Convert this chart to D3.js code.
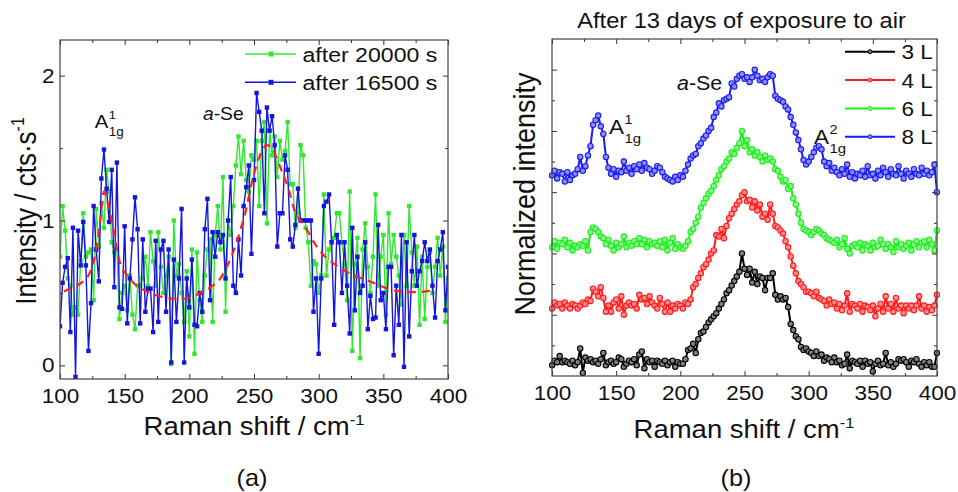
<!DOCTYPE html>
<html>
<head>
<meta charset="utf-8">
<script src="https://cdn.jsdelivr.net/npm/d3@7"></script>
<style>
body { margin: 0; background: #fff; }
</style>
</head>
<body>
<svg id="fig" width="958" height="492"></svg>
<script>
'use strict'

// ---- data ----
var shiftGrid = d3.range(100, 401, 2)   // Raman shift, cm-1, both panels

// panel (a): intensity, cts/s
var after20000 = [
    0.75, 1.1, 0.93, 0.6, 0.55, 0.35, 0.4, 0.35, 0.72, 1.05,
    0.75, 0.78, 0.8, 0.45, 1.08, 0.82, 1.12, 0.95, 1.35, 1.2,
    0.85, 0.78, 0.8, 0.32, 0.5, 0.55, 0.38, 0.62, 0.35, 0.25,
    0.55, 0.55, 0.6, 0.75, 0.55, 0.92, 0.72, 0.55, 0.92, 0.68,
    0.5, 0.62, 0.75, 0.01, 1.0, 0.62, 0.7, 0.5, 0.3, 0.65,
    0.2, 0.8, 0.08, 0.78, 0.45, 0.3, 0.62, 0.8, 0.87, 0.3,
    0.9, 1.1, 0.8, 1.3, 0.37, 1.0, 0.9, 1.1, 1.38, 1.58,
    1.32, 1.55, 1.28, 1.2, 1.45, 1.42, 1.55, 1.1, 1.55, 1.68,
    0.98, 1.62, 1.45, 1.58, 1.3, 1.55, 1.42, 1.48, 1.68, 1.25,
    1.25, 0.95, 1.05, 1.52, 1.45, 0.95, 0.85, 0.55, 0.72, 0.7,
    0.5, 0.62, 1.18, 0.62, 0.8, 0.85, 0.88, 1.05, 1.05, 0.85,
    0.7, 0.45, 1.2, 0.1, 0.7, 0.88, 0.05, 0.8, 0.98, 0.68,
    0.5, 0.75, 1.18, 0.55, 0.75, 0.9, 0.35, 1.05, 0.7, 0.9,
    0.75, 0.62, 0.42, 0.9, 0.55, 1.1, 0.78, 0.55, 0.82, 0.28,
    0.75, 0.32, 0.68, 0.78, 0.5, 0.68, 0.88, 0.62, 0.82, 0.3,
    0.6
]
var after16500 = [
    0.27, 0.57, 0.68, 0.74, 0.23, 0.95, -0.08, 0.93, 0.69, 0.99,
    0.69, 0.10, 0.43, 1.10, 0.80, 0.58, 1.29, 1.49, 1.22, 0.99,
    1.35, 0.54, 1.40, 0.40, 0.39, 0.96, 0.29, 0.60, 0.87, 1.16,
    0.94, 0.29, 0.87, 0.37, 0.53, 0.53, 0.23, 0.86, 0.30, 0.80,
    0.86, 0.37, 0.80, 0.02, 0.73, 0.30, 0.60, 1.08, 0.02, 0.60,
    0.40, 0.73, 0.28, 0.27, 0.50, 0.37, 0.94, 1.15, 0.45, 0.92,
    0.75, 0.92, 0.85, 0.90, 0.60, 1.00, 1.30, 0.55, 0.50, 0.87,
    0.62, 1.10, 1.23, 1.38, 0.77, 1.28, 1.88, 1.75, 1.62, 1.05,
    1.78, 1.62, 1.72, 1.52, 0.82, 1.05, 1.05, 1.45, 1.35, 0.87,
    0.82, 0.97, 1.22, 1.00, 1.00, 1.00, 1.00, 1.00, 0.37, 0.60,
    0.08, 0.60, 1.10, 1.13, 1.18, 0.85, 0.28, 0.90, 0.85, 0.50,
    0.85, 0.55, 0.22, 0.95, 0.38, 0.75, 0.50, 0.55, 0.85, 0.25,
    0.48, 0.32, 0.33, 0.97, 0.45, 0.50, 0.25, 0.68, 0.68, 0.07,
    0.55, 0.28, 0.90, -0.01, 0.85, 0.20, 0.65, 0.90, 0.55, 0.65,
    0.72, 0.85, 0.72, 0.80, 0.55, 0.33, 0.72, 0.80, 0.92, 0.38,
    0.68
]
var fitShift = [103, 110, 118, 124, 128, 131, 134, 137, 141, 146, 152, 158, 165, 172, 180, 189, 197, 204, 211, 218,
    224, 229, 235, 240, 244, 248, 252, 256, 260, 264, 268, 272, 277, 281, 286, 290, 297, 304, 312, 322,
    330, 337, 345, 353, 360, 368, 376, 384, 390]
var fitValue = [0.51, 0.54, 0.58, 0.66, 0.8, 0.99, 1.2, 1.12, 0.95, 0.72, 0.62, 0.56, 0.52, 0.49, 0.47, 0.46, 0.46, 0.48, 0.51, 0.55,
    0.6, 0.68, 0.81, 0.95, 1.08, 1.25, 1.38, 1.48, 1.52, 1.5, 1.42, 1.33, 1.21, 1.08, 1.0, 0.95, 0.84, 0.76, 0.7, 0.645,
    0.61, 0.59, 0.56, 0.53, 0.515, 0.508, 0.505, 0.512, 0.52]

// panel (b): normalized intensity, offset traces
var layers3 = [
    0.35, 0.5, 0.45, 0.65, 0.45, 0.5, 0.45, 0.4, 0.5, 0.35,
    0.45, 0.9, 0.1, 0.6, 0.5, 0.55, 0.45, 0.5, 0.4, 0.55,
    0.75, 0.35, 0.45, 0.5, 0.4, 0.45, 0.6, 0.55, 0.3, 0.4,
    0.5, 0.45, 0.55, 0.35, 0.7, 0.8, 0.25, 0.55, 0.45, 0.5,
    0.3, 0.5, 0.45, 0.4, 0.5, 0.35, 0.45, 0.5, 0.3, 0.45,
    0.4, 0.4, 0.55, 0.85, 0.9, 1.05, 0.75, 1.2, 1.4, 1.45,
    1.6, 1.75, 1.85, 1.95, 2.05, 2.2, 2.35, 2.5, 2.7, 2.8,
    2.95, 3.1, 3.25, 3.4, 4.0, 3.5, 3.3, 3.5, 3.05, 3.4,
    3.0, 3.25, 3.2, 2.8, 3.2, 3.2, 3.35, 2.65, 2.5, 2.6,
    2.5, 2.55, 2.25, 1.7, 1.5, 1.3, 1.2, 0.95, 0.85, 0.9,
    0.8, 0.75, 0.65, 0.8, 0.65, 0.7, 0.5, 0.6, 0.55, 0.45,
    0.6, 0.45, 0.5, 0.35, 0.4, 0.7, 0.25, 0.5, 0.45, 0.4,
    0.5, 0.3, 0.5, 0.4, 0.45, 0.15, 0.4, 0.5, 0.35, 0.4,
    0.75, 0.35, 0.45, 0.3, 0.4, 0.55, 0.5, 0.55, 0.45, 0.3,
    0.5, 0.45, 0.55, 0.4, 0.3, 0.45, 0.35, 0.45, 0.3, 0.3,
    0.75
]
var layers4 = [
    2.2, 2.4, 2.3, 2.35, 2.2, 2.4, 2.3, 2.2, 2.35, 2.3,
    2.2, 2.3, 2.4, 2.35, 2.5, 2.45, 2.85, 2.75, 2.6, 2.9,
    2.55, 2.1, 2.3, 2.1, 2.4, 2.5, 2.2, 2.6, 2.0, 2.3,
    2.4, 2.3, 2.35, 2.2, 2.65, 2.5, 2.55, 2.35, 2.6, 2.4,
    2.3, 2.2, 2.55, 2.35, 2.1, 2.4, 2.1, 2.3, 2.2, 2.35,
    2.3, 2.2, 2.4, 2.35, 2.5, 2.9, 3.0, 3.2, 3.35, 3.55,
    3.65, 3.8, 4.0, 4.1, 4.6, 4.55, 4.8, 4.5, 4.9, 5.15,
    5.3, 5.45, 5.6, 5.7, 5.9, 6.0, 5.7, 5.75, 5.5, 5.7,
    5.4, 5.6, 5.2, 5.3, 5.1, 5.6, 5.3, 4.9, 4.85, 4.75,
    4.65, 4.4, 4.2, 3.9, 3.6, 3.35, 3.1, 3.0, 2.9, 2.75,
    2.75, 2.7, 2.6, 2.75, 2.55, 2.5, 2.45, 2.3, 2.5, 2.35,
    2.4, 2.2, 2.35, 2.15, 2.3, 2.7, 2.1, 2.35, 2.3, 2.2,
    2.35, 2.1, 2.3, 2.25, 2.15, 2.3, 1.95, 2.2, 2.35, 2.1,
    2.6, 2.2, 2.35, 2.1, 2.55, 2.2, 2.3, 2.05, 2.3, 2.2,
    2.3, 2.15, 2.3, 2.6, 2.2, 2.3, 2.1, 2.25, 2.15, 2.3,
    2.65
]
var layers6 = [
    4.2, 4.4, 4.15, 4.35, 4.3, 4.45, 4.2, 4.35, 4.1, 4.25,
    4.2, 4.3, 4.25, 4.4, 4.1, 4.7, 4.85, 4.8, 4.7, 4.55,
    4.5, 4.3, 4.45, 4.25, 4.1, 4.35, 4.2, 4.3, 4.55, 4.2,
    4.35, 4.25, 4.4, 4.3, 4.5, 4.3, 4.45, 4.2, 4.4, 4.3,
    4.35, 4.25, 4.4, 4.2, 4.45, 4.1, 4.35, 4.5, 4.15, 4.3,
    4.2, 4.15, 4.25, 4.4, 4.7, 4.8, 5.0, 5.2, 5.5, 5.65,
    5.8, 5.95, 6.05, 6.2, 6.4, 6.55, 6.75, 6.85, 7.0, 7.1,
    7.3, 7.25, 7.45, 7.6, 8.0, 7.5, 7.7, 7.3, 7.4, 7.2,
    7.3, 7.15, 7.0, 7.2, 7.05, 7.1, 7.0, 6.75, 6.7, 6.5,
    6.35, 6.4, 6.1, 6.2, 5.8, 5.6, 5.3, 5.0, 4.8, 4.75,
    4.7, 4.6, 4.7, 4.8, 4.75, 4.65, 4.6, 4.5, 4.45, 4.4,
    4.35, 4.45, 4.2, 4.3, 4.5, 4.15, 4.0, 4.25, 4.3, 4.2,
    4.35, 4.1, 4.3, 4.25, 4.1, 4.35, 4.2, 4.25, 4.45, 4.3,
    4.15, 4.3, 4.2, 4.05, 4.4, 4.2, 4.3, 4.15, 4.25, 4.35,
    4.1, 4.3, 4.4, 4.2, 4.35, 4.4, 4.2, 4.45, 4.3, 4.1,
    4.75
]
var layers8 = [
    6.55, 6.7, 6.45, 6.65, 6.6, 6.35, 6.65, 6.4, 6.55, 6.6,
    6.75, 7.15, 6.7, 6.85, 7.2, 7.5, 8.2, 8.35, 8.5, 8.15,
    7.9, 7.15, 6.8, 6.6, 6.75, 6.5, 6.7, 6.65, 7.0, 6.7,
    6.8, 6.6, 6.85, 6.75, 6.9, 6.7, 6.95, 6.8, 6.75, 6.6,
    6.7, 6.85, 6.8, 6.65, 6.5, 6.45, 6.4, 6.35, 6.5, 6.4,
    6.55, 6.5, 6.7, 6.9, 7.1, 7.2, 7.25, 7.5, 7.6, 7.75,
    7.85, 8.0, 8.1, 8.45, 8.6, 8.9, 8.8, 9.0, 9.05, 9.1,
    9.55, 9.45, 9.7, 9.8, 9.85, 9.7, 9.75, 9.6, 9.75, 10.0,
    9.8, 9.65, 9.7, 9.6, 9.75, 9.85, 9.8, 9.15, 9.05, 9.0,
    8.95, 8.8, 8.7, 8.45, 8.2, 7.95, 7.7, 7.4, 7.05, 6.9,
    7.0, 7.15, 7.3, 7.45, 7.5, 7.4, 7.0, 6.85, 6.95, 6.7,
    6.8, 6.65, 6.55, 6.75, 6.6, 6.9, 6.5, 6.65, 6.45, 6.6,
    6.55, 6.7, 6.5, 6.85, 6.55, 6.6, 6.45, 6.7, 6.55, 6.8,
    6.65, 6.5, 6.75, 6.6, 6.55, 6.85, 6.6, 6.45, 6.7, 6.6,
    6.5, 6.75, 6.6, 6.55, 6.8, 6.6, 6.7, 6.55, 6.65, 6.9,
    6.0
]

var shiftTicks = [100, 150, 200, 250, 300, 350, 400]
var shiftMinor = [125, 175, 225, 275, 325, 375]
var intensityTicks = [0, 1, 2]
var intensityMinor = [0.5, 1.5]
var normTicks = [2, 4, 6, 8, 10]
var normMinor = [1, 3, 5, 7, 9]

var leftSeries = [
    { name: 'after 20000 s', values: after20000, color: '#33e633' },
    { name: 'after 16500 s', values: after16500, color: '#1515dd' }
]
var rightSeries = [
    { name: '3 L', values: layers3, color: '#000000' },
    { name: '4 L', values: layers4, color: '#ff1a1a' },
    { name: '6 L', values: layers6, color: '#1aef1a' },
    { name: '8 L', values: layers8, color: '#1a1aee' }
]

// ---- drawing ----
var FONT = '"Liberation Sans", Arial, sans-serif'
var SX = 1.1   // the original figure is slightly stretched horizontally
var svg = d3.select('#fig').style('font-family', FONT)

var addText = function(parent, x, y, size, anchor) {
    return parent.append('text')
        .attr('transform', 'translate(' + x + ',' + y + ') scale(' + SX + ',1)')
        .attr('text-anchor', anchor || 'start')
        .style('font-size', size + 'px')
        .style('fill', '#111')
}

var drawFrame = function(g, x, y, w, h, opts) {
    let ax = function(axis, tx, ty) {
        let a = g.append('g')
            .attr('transform', 'translate(' + tx + ',' + ty + ')')
            .attr('color', '#333')
            .call(axis)
        a.select('.domain').remove()
        a.selectAll('text')
            .style('font-size', '20.5px')
            .style('font-family', FONT)
            .style('fill', '#111')
            .attr('transform', 'scale(' + SX + ',1)')
        return a
    }
    ax(d3.axisBottom(x).tickValues(opts.xMajor).tickSize(-5).tickPadding(9).tickFormat(d3.format('d')), 0, h)
    ax(d3.axisBottom(x).tickValues(opts.xMinor).tickSize(-3).tickFormat(''), 0, h)
    ax(d3.axisTop(x).tickValues(opts.xMajor).tickSize(-5).tickFormat(''), 0, 0)
    ax(d3.axisTop(x).tickValues(opts.xMinor).tickSize(-3).tickFormat(''), 0, 0)
    ax(d3.axisLeft(y).tickValues(opts.yMajor).tickSize(-5).tickPadding(5).tickFormat(opts.yFormat), 0, 0)
    ax(d3.axisLeft(y).tickValues(opts.yMinor).tickSize(-3).tickFormat(''), 0, 0)
    ax(d3.axisRight(y).tickValues(opts.yMajor).tickSize(-5).tickFormat(''), w, 0)
    ax(d3.axisRight(y).tickValues(opts.yMinor).tickSize(-3).tickFormat(''), w, 0)

    g.append('rect')
        .attr('width', w).attr('height', h)
        .style('fill', 'none').style('stroke', '#444').style('stroke-width', 1.2)
}

// mode label like A_1g^1
var modeLabel = function(x, y, size, sup) {
    addText(svg, x, y, size).text('A')
    let off = 0.69 * size * SX
    addText(svg, x + off, y - 0.5 * size, size * 0.64).text(sup)
    addText(svg, x + off, y + 0.42 * size, size * 0.66).text('1g')
}

var aSe = function(x, y, size) {
    let t = addText(svg, x, y, size)
    t.append('tspan').style('font-style', 'italic').text('a')
    t.append('tspan').text('-Se')
}

// ---------- panel (a) ----------
var leftW = 388, leftH = 339
var gA = svg.append('g').attr('transform', 'translate(60,40)')

var xA = d3.scaleLinear().domain([100, 400]).range([0, leftW])
var yA = d3.scaleLinear().domain([-0.094, 2.246]).range([leftH, 0])

gA.append('defs').append('clipPath').attr('id', 'clipA')
    .append('rect').attr('width', leftW).attr('height', leftH)
var plotA = gA.append('g').attr('clip-path', 'url(#clipA)')

leftSeries.forEach(s => {
    let line = d3.line().x((d, i) => xA(shiftGrid[i])).y(d => yA(d))
    plotA.append('path').datum(s.values)
        .attr('d', line)
        .style('fill', 'none').style('stroke', s.color).style('stroke-width', 1.4)
    plotA.selectAll(null).data(s.values).enter().append('rect')
        .attr('x', (d, i) => xA(shiftGrid[i]) - 2.2)
        .attr('y', d => yA(d) - 2.2)
        .attr('width', 4.4).attr('height', 4.4)
        .style('fill', s.color)
})

var fitLine = d3.line().curve(d3.curveMonotoneX)
    .x((d, i) => xA(fitShift[i])).y(d => yA(d))
plotA.append('path').datum(fitValue)
    .attr('d', fitLine)
    .style('fill', 'none').style('stroke', '#ff2020').style('stroke-width', 2.2)
    .style('stroke-dasharray', '8,6')

drawFrame(gA, xA, yA, leftW, leftH, {
    xMajor: shiftTicks, xMinor: shiftMinor,
    yMajor: intensityTicks, yMinor: intensityMinor, yFormat: d3.format('d')
})

// legend (a)
leftSeries.forEach((s, i) => {
    let ly = 54 + i * 28.3
    svg.append('line').attr('x1', 245).attr('x2', 296).attr('y1', ly).attr('y2', ly)
        .style('stroke', s.color).style('stroke-width', 1.5)
    svg.append('rect').attr('x', 268.5).attr('y', ly - 2.5).attr('width', 5).attr('height', 5)
        .style('fill', s.color)
    addText(svg, 302.5, ly + 7.5, 21).text(s.name)
})

modeLabel(94.7, 128.3, 18.5, '1')
aSe(203, 120, 17.5)

// axis titles (a)
var xtA = addText(svg, 254, 435, 25, 'middle')
xtA.append('tspan').text('Raman shift / cm')
xtA.append('tspan').attr('dy', -10).style('font-size', '15px').text('-1')

var ytA = svg.append('text')
    .attr('transform', 'translate(36,211) scale(' + SX + ',1) rotate(-90)')
    .attr('text-anchor', 'middle').style('font-size', '26px').style('fill', '#111')
ytA.append('tspan').text('Intensity / cts\u00b7s')
ytA.append('tspan').attr('dy', -11).style('font-size', '16px').text('-1')

addText(svg, 252, 486, 23, 'middle').text('(a)')

// ---------- panel (b) ----------
var rightW = 385, rightH = 337
var gB = svg.append('g').attr('transform', 'translate(552,39)')

var xB = d3.scaleLinear().domain([100, 400]).range([0, rightW])
var yB = d3.scaleLinear().domain([0, 11]).range([rightH, 0])

gB.append('defs').append('clipPath').attr('id', 'clipB')
    .append('rect').attr('x', -3).attr('width', rightW + 6).attr('height', rightH)
var plotB = gB.append('g').attr('clip-path', 'url(#clipB)')

rightSeries.forEach(s => {
    let line = d3.line().x((d, i) => xB(shiftGrid[i])).y(d => yB(d))
    let light = d3.interpolateRgb(s.color, '#ffffff')(0.5)
    plotB.append('path').datum(s.values)
        .attr('d', line)
        .style('fill', 'none').style('stroke', s.color).style('stroke-width', 2)
    plotB.selectAll(null).data(s.values).enter().append('circle')
        .attr('cx', (d, i) => xB(shiftGrid[i]))
        .attr('cy', d => yB(d))
        .attr('r', 2.7)
        .style('fill', light).style('stroke', s.color).style('stroke-width', 1.1)
})

drawFrame(gB, xB, yB, rightW, rightH, {
    xMajor: shiftTicks, xMinor: shiftMinor,
    yMajor: normTicks, yMinor: normMinor, yFormat: ''
})

// legend (b)
rightSeries.forEach((s, i) => {
    let ly = 51.7 + i * 28.35
    svg.append('line').attr('x1', 845).attr('x2', 895).attr('y1', ly).attr('y2', ly)
        .style('stroke', s.color).style('stroke-width', 2)
    svg.append('circle').attr('cx', 870).attr('cy', ly).attr('r', 2)
        .style('fill', d3.interpolateRgb(s.color, '#ffffff')(0.5)).style('stroke', s.color)
    addText(svg, 901.5, ly + 7.5, 20.5).text(s.name)
})

modeLabel(609, 134, 20.5, '1')
modeLabel(814, 144, 20.5, '2')
aSe(677, 90, 19.5)

addText(svg, 741.5, 28.3, 21.5, 'middle').text('After 13 days of exposure to air')

var xtB = addText(svg, 744, 438, 25, 'middle')
xtB.append('tspan').text('Raman shift / cm')
xtB.append('tspan').attr('dy', -10).style('font-size', '15px').text('-1')

svg.append('text')
    .attr('transform', 'translate(535,194) scale(' + SX + ',1) rotate(-90)')
    .attr('text-anchor', 'middle').style('font-size', '27px').style('fill', '#111')
    .text('Normalized intensity')

addText(svg, 736, 486, 23, 'middle').text('(b)')
</script>
</body>
</html>
